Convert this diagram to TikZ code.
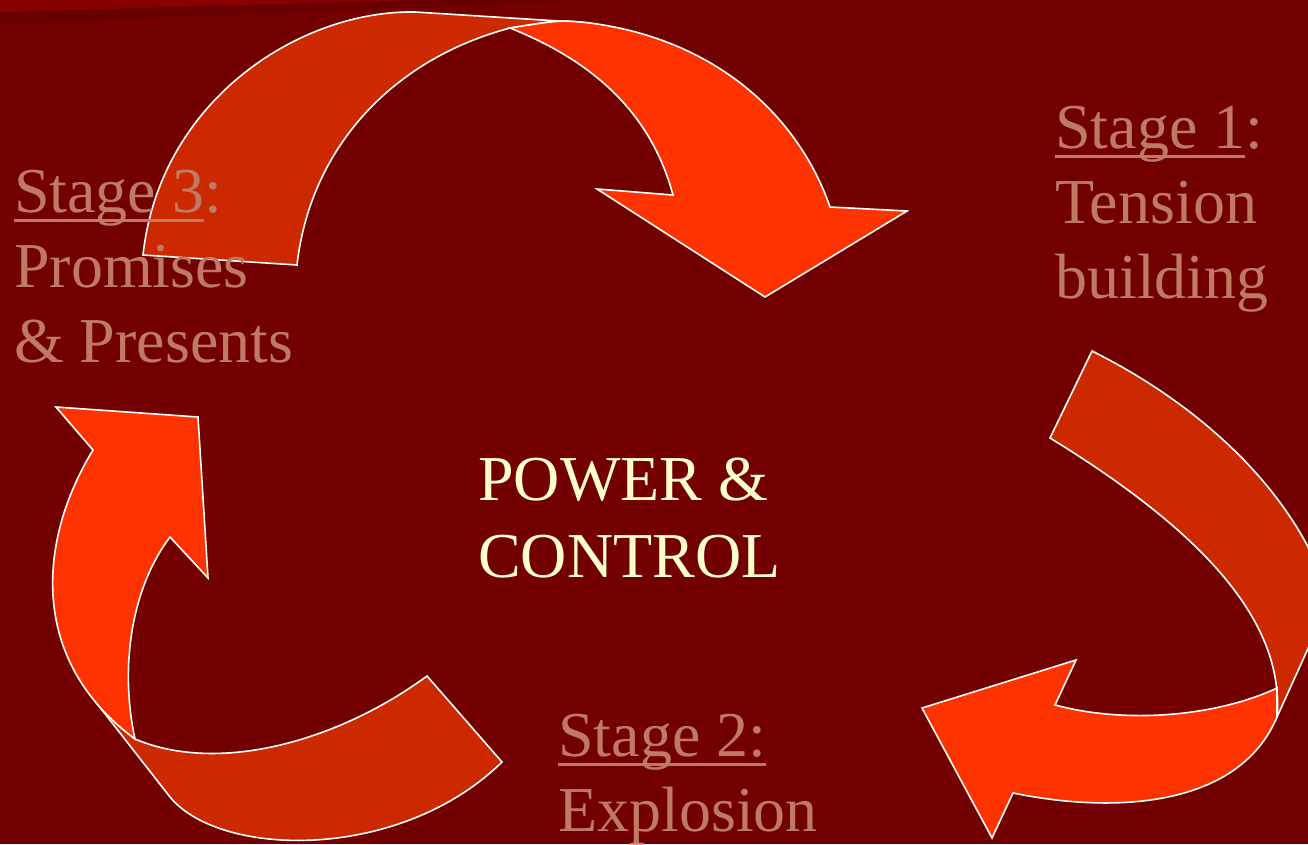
\documentclass[tikz,border=0pt]{standalone}
\usepackage{fontspec}
\setmainfont{Liberation Serif}
\definecolor{bgred}{HTML}{720000}
\definecolor{bgstripA}{HTML}{880000}
\definecolor{bgstripB}{HTML}{680000}
\definecolor{arrowdark}{HTML}{CC2900}
\definecolor{arrowbright}{HTML}{FF3300}
\definecolor{stagetan}{HTML}{C07A64}
\definecolor{paleyellow}{HTML}{FFFFCC}
\newcommand\myul[1]{\setbox0\hbox{#1}\rlap{\rule[-10pt]{\wd0}{3pt}}\box0}
\tikzset{
  darkpart/.style={fill=arrowdark, draw=white, line width=1.6pt, line join=miter},
  brightpart/.style={fill=arrowbright, draw=white, line width=1.6pt, line join=miter},
  lbl/.style={text=stagetan, font=\fontsize{64}{75}\selectfont, inner sep=0pt, anchor=base west},
  centerlbl/.style={text=paleyellow, font=\fontsize{64}{75}\selectfont, inner sep=0pt, anchor=base west}
}
\begin{document}
\begin{tikzpicture}[x=1pt,y=-1pt]
\useasboundingbox (0,0) rectangle (1308,844);
\fill[bgred] (0,0) rectangle (1308,844);
\fill[bgstripB] (0,12) -- (0,24) -- (600,0) -- (410,0) -- cycle;
\fill[bgstripA] (0,0) -- (0,12) -- (410,0) -- cycle;
\begin{scope}
\clip (0,0) rectangle (1308,844);
% Arrow A (top): Stage 3 -> Stage 1
\path[darkpart] (143,255) .. controls (160,100) and (300,10) .. (415,12)
  -- (590,23) .. controls (560,20) .. (510,28)
  .. controls (390,60) and (310,150) .. (297,265) -- cycle;
\path[brightpart] (510,28) .. controls (560,20) .. (590,23)
  .. controls (720,40) and (800,120) .. (830,207)
  -- (907,211) -- (765,297) -- (597,189) -- (673,195)
  .. controls (650,110) and (590,60) .. (510,28) -- cycle;
% Arrow B (right): Stage 1 -> Stage 2
\path[darkpart] (1092,351) .. controls (1210,410) and (1300,500) .. (1330,600)
  -- (1277,717) .. controls (1285,620) and (1200,530) .. (1050,438) -- cycle;
\path[brightpart] (1277,688) .. controls (1220,715) and (1130,725) .. (1055,705)
  -- (1076,660) -- (922,708) -- (992,838) -- (1013,793)
  .. controls (1120,815) and (1240,805) .. (1277,717) -- cycle;
% Arrow C (left): Stage 2 -> Stage 3
\path[darkpart] (502,762) -- (427,676) .. controls (340,740) and (220,775) .. (135,739)
  -- (115,705) -- (95,701) -- (170,797)
  .. controls (220,858) and (400,862) .. (502,762) -- cycle;
\path[brightpart] (135,739) .. controls (120,670) and (130,590) .. (170,537)
  -- (208,578) -- (198,417) -- (56,407) -- (93,450)
  .. controls (38,540) and (28,660) .. (135,739) -- cycle;
\end{scope}
% Labels
\node[lbl] (s1a) at (1055,148) {\myul{Stage 1}:};
\node[lbl] (s1b) at (1055,223) {Tension};
\node[lbl] (s1c) at (1055,298) {building};
\node[lbl] (s3a) at (14,212) {\myul{Stage 3}:};
\node[lbl] (s3b) at (14,287) {Promises};
\node[lbl] (s3c) at (14,362) {\& Presents};
\node[lbl] (s2a) at (558,756) {\myul{Stage 2:}};
\node[lbl] (s2b) at (558,831) {Explosion};
\node[centerlbl] (pc1) at (478,500) {POWER \&};
\node[centerlbl] (pc2) at (478,577) {CONTROL};
\end{tikzpicture}
\end{document}
